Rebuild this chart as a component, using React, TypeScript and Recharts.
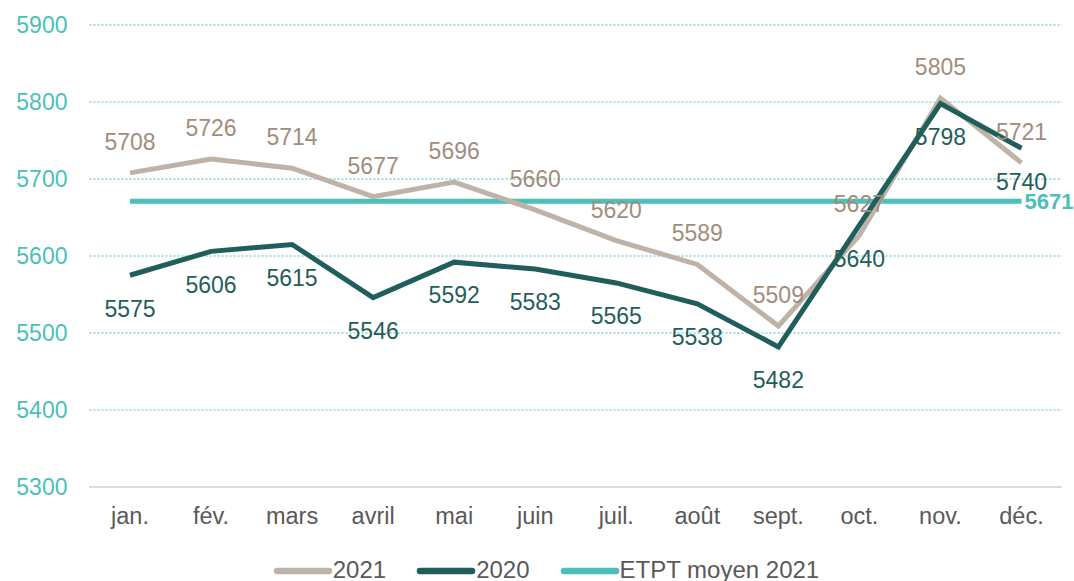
import React from 'react';
import { LineChart, Line, XAxis, YAxis, CartesianGrid, Legend, LabelList } from 'recharts';

const months = ['jan.', 'fév.', 'mars', 'avril', 'mai', 'juin', 'juil.', 'août', 'sept.', 'oct.', 'nov.', 'déc.'];
const values2021 = [5708, 5726, 5714, 5677, 5696, 5660, 5620, 5589, 5509, 5627, 5805, 5721];
const values2020 = [5575, 5606, 5615, 5546, 5592, 5583, 5565, 5538, 5482, 5640, 5798, 5740];
const avg2021 = 5671;
const yTicks = [5300, 5400, 5500, 5600, 5700, 5800, 5900];

const C2021 = '#bfb3a8';
const C2021_LABEL = '#a08d7c';
const C2020 = '#1f5e5a';
const CAVG = '#4bbfb8';
const FONT = '"Liberation Sans", Arial, sans-serif';

const data = months.map((m, i) => ({
  month: m,
  y2021: values2021[i],
  y2020: values2020[i],
  avg: avg2021,
}));

const legendItems = [
  { label: '2021', color: C2021 },
  { label: '2020', color: C2020 },
  { label: 'ETPT moyen 2021', color: CAVG },
];

const renderLegend = () => (
  <div style={{ display: 'flex', justifyContent: 'center', alignItems: 'center', fontFamily: FONT, fontSize: 24, color: '#595959', marginLeft: 30, height: 26 }}>
    {legendItems.map((it, i) => (
      <div key={it.label} style={{ display: 'flex', alignItems: 'center', marginRight: i < legendItems.length - 1 ? 30 : 0 }}>
        <svg width={60} height={12} style={{ marginRight: 0 }}>
          <line x1={4} y1={7} x2={56} y2={7} stroke={it.color} strokeWidth={6.5} strokeLinecap="round" />
        </svg>
        <span>{it.label}</span>
      </div>
    ))}
  </div>
);

const AvgLabel = (props: any) => {
  const { x, y, index, value } = props;
  if (index !== months.length - 1) return null;
  return (
    <text x={x + 3} y={y} dy="0.36em" fill={CAVG} fontFamily={FONT} fontSize={22} fontWeight="bold" textAnchor="start">
      {value}
    </text>
  );
};

export default function App() {
  return (
    <div style={{ position: 'absolute', left: 0, top: 0, width: 1074, height: 581, background: '#fff' }}>
      <LineChart width={1074} height={581} data={data} margin={{ top: 25, right: 12, left: 0, bottom: 0 }}>
        <CartesianGrid vertical={false} stroke={CAVG} strokeDasharray="2 2" strokeWidth={1.2} />
        <XAxis
          dataKey="month"
          axisLine={{ stroke: '#d9d9d9', strokeWidth: 1.5 }}
          tickLine={false}
          tickSize={0}
          tickMargin={20}
          height={68}
          padding={{ left: 40.5, right: 40.5 }}
          tick={{ fill: '#595959', fontSize: 23.5, fontFamily: FONT }}
          interval={0}
        />
        <YAxis
          domain={[5300, 5900]}
          ticks={yTicks}
          axisLine={false}
          tickLine={false}
          tickSize={0}
          tickMargin={22}
          width={89.5}
          tick={{ fill: CAVG, fontSize: 23, fontFamily: FONT }}
          interval={0}
        />
        <Legend verticalAlign="bottom" height={26} content={renderLegend} wrapperStyle={{ bottom: -2 }} />
        <Line dataKey="avg" name="ETPT moyen 2021" stroke={CAVG} strokeWidth={5} dot={false} isAnimationActive={false}>
          <LabelList dataKey="avg" content={AvgLabel} />
        </Line>
        <Line dataKey="y2021" name="2021" stroke={C2021} strokeWidth={5} dot={false} isAnimationActive={false}>
          <LabelList dataKey="y2021" position="top" offset={23} fill={C2021_LABEL} fontSize={23} fontFamily={FONT} />
        </Line>
        <Line dataKey="y2020" name="2020" stroke={C2020} strokeWidth={5} dot={false} isAnimationActive={false}>
          <LabelList dataKey="y2020" position="bottom" offset={25} fill={C2020} fontSize={23} fontFamily={FONT} />
        </Line>
      </LineChart>
    </div>
  );
}
